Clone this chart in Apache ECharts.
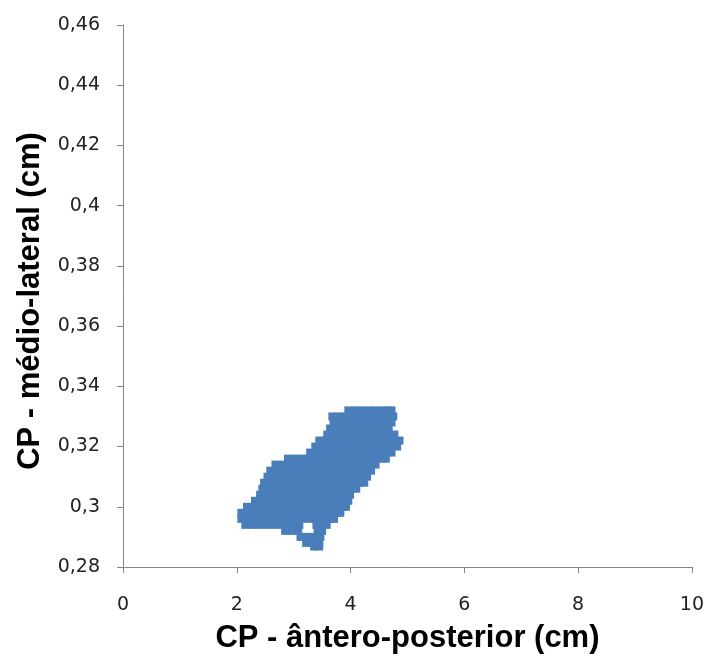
<!DOCTYPE html>
<html>
<head>
<meta charset="utf-8">
<script src="https://cdn.jsdelivr.net/npm/echarts@6/dist/echarts.min.js"></script>
<style>
  html, body { margin: 0; padding: 0; background: #ffffff; }
  #chart { width: 707px; height: 661px; }
</style>
</head>
<body>
<div id="chart"></div>
<script>
// Axis titles and tick labels
const xAxisTitle = 'CP - ântero-posterior (cm)';
const yAxisTitle = 'CP - médio-lateral (cm)';
const xTickLabels = ['0', '2', '4', '6', '8', '10'];
const yTickLabels = ['0,28', '0,3', '0,32', '0,34', '0,36', '0,38', '0,4', '0,42', '0,44', '0,46'];

// Centre-of-pressure trajectory samples: [antero-posterior (cm), medio-lateral (cm)]
const cpPoints = [
  [3.96,0.332],[4.08,0.332],[4.20,0.332],[4.32,0.332],[4.44,0.332],[4.56,0.332],[4.66,0.332],[4.72,0.332],
  [3.68,0.330],[3.80,0.330],[3.92,0.330],[4.04,0.330],[4.16,0.330],[4.28,0.330],[4.40,0.330],[4.52,0.330],[4.64,0.330],[4.75,0.330],
  [3.70,0.328],[3.82,0.328],[3.94,0.328],[4.06,0.328],[4.18,0.328],[4.30,0.328],[4.42,0.328],[4.54,0.328],[4.64,0.328],[4.72,0.328],
  [3.64,0.326],[3.76,0.326],[3.88,0.326],[4.00,0.326],[4.12,0.326],[4.24,0.326],[4.36,0.326],[4.48,0.326],[4.58,0.326],[4.67,0.326],
  [3.59,0.324],[3.71,0.324],[3.83,0.324],[3.95,0.324],[4.07,0.324],[4.19,0.324],[4.31,0.324],[4.43,0.324],[4.55,0.324],[4.67,0.324],[4.77,0.324],
  [3.45,0.322],[3.57,0.322],[3.69,0.322],[3.81,0.322],[3.93,0.322],[4.05,0.322],[4.17,0.322],[4.29,0.322],[4.41,0.322],[4.53,0.322],[4.65,0.322],[4.77,0.322],[4.86,0.322],
  [3.38,0.320],[3.50,0.320],[3.62,0.320],[3.74,0.320],[3.86,0.320],[3.98,0.320],[4.10,0.320],[4.22,0.320],[4.34,0.320],[4.46,0.320],[4.58,0.320],[4.70,0.320],[4.82,0.320],
  [3.29,0.318],[3.41,0.318],[3.53,0.318],[3.65,0.318],[3.77,0.318],[3.89,0.318],[4.01,0.318],[4.13,0.318],[4.25,0.318],[4.37,0.318],[4.49,0.318],[4.61,0.318],[4.72,0.318],
  [2.90,0.316],[3.02,0.316],[3.14,0.316],[3.26,0.316],[3.38,0.316],[3.50,0.316],[3.62,0.316],[3.74,0.316],[3.86,0.316],[3.98,0.316],[4.10,0.316],[4.22,0.316],[4.34,0.316],[4.46,0.316],[4.56,0.316],[4.62,0.316],
  [2.68,0.314],[2.80,0.314],[2.92,0.314],[3.04,0.314],[3.16,0.314],[3.28,0.314],[3.40,0.314],[3.52,0.314],[3.64,0.314],[3.76,0.314],[3.88,0.314],[4.00,0.314],[4.12,0.314],[4.24,0.314],[4.36,0.314],[4.44,0.314],
  [2.59,0.312],[2.71,0.312],[2.83,0.312],[2.95,0.312],[3.07,0.312],[3.19,0.312],[3.31,0.312],[3.43,0.312],[3.55,0.312],[3.67,0.312],[3.79,0.312],[3.91,0.312],[4.03,0.312],[4.15,0.312],[4.27,0.312],[4.36,0.312],
  [2.54,0.310],[2.66,0.310],[2.78,0.310],[2.90,0.310],[3.02,0.310],[3.14,0.310],[3.26,0.310],[3.38,0.310],[3.50,0.310],[3.62,0.310],[3.74,0.310],[3.86,0.310],[3.98,0.310],[4.10,0.310],[4.22,0.310],[4.29,0.310],
  [2.48,0.308],[2.60,0.308],[2.72,0.308],[2.84,0.308],[2.96,0.308],[3.08,0.308],[3.20,0.308],[3.32,0.308],[3.44,0.308],[3.56,0.308],[3.68,0.308],[3.80,0.308],[3.92,0.308],[4.04,0.308],[4.16,0.308],[4.24,0.308],
  [2.45,0.306],[2.57,0.306],[2.69,0.306],[2.81,0.306],[2.93,0.306],[3.05,0.306],[3.17,0.306],[3.29,0.306],[3.41,0.306],[3.53,0.306],[3.65,0.306],[3.77,0.306],[3.89,0.306],[4.01,0.306],[4.10,0.306],
  [2.41,0.304],[2.53,0.304],[2.65,0.304],[2.77,0.304],[2.89,0.304],[3.01,0.304],[3.13,0.304],[3.25,0.304],[3.37,0.304],[3.49,0.304],[3.61,0.304],[3.73,0.304],[3.85,0.304],[3.95,0.304],[3.99,0.304],
  [2.32,0.302],[2.44,0.302],[2.56,0.302],[2.68,0.302],[2.80,0.302],[2.92,0.302],[3.04,0.302],[3.16,0.302],[3.28,0.302],[3.40,0.302],[3.52,0.302],[3.64,0.302],[3.76,0.302],[3.88,0.302],[3.96,0.302],
  [2.18,0.300],[2.30,0.300],[2.42,0.300],[2.54,0.300],[2.66,0.300],[2.78,0.300],[2.90,0.300],[3.02,0.300],[3.14,0.300],[3.26,0.300],[3.38,0.300],[3.50,0.300],[3.62,0.300],[3.74,0.300],[3.86,0.300],[3.92,0.300],
  [2.08,0.298],[2.20,0.298],[2.32,0.298],[2.44,0.298],[2.56,0.298],[2.68,0.298],[2.80,0.298],[2.92,0.298],[3.04,0.298],[3.16,0.298],[3.28,0.298],[3.40,0.298],[3.52,0.298],[3.64,0.298],[3.76,0.298],[3.82,0.298],
  [2.08,0.296],[2.20,0.296],[2.32,0.296],[2.44,0.296],[2.56,0.296],[2.68,0.296],[2.80,0.296],[2.92,0.296],[3.04,0.296],[3.16,0.296],[3.28,0.296],[3.40,0.296],[3.52,0.296],[3.64,0.296],[3.71,0.296],
  [2.15,0.294],[2.27,0.294],[2.39,0.294],[2.51,0.294],[2.63,0.294],[2.75,0.294],[2.87,0.294],[2.99,0.294],[3.10,0.294],[3.40,0.294],[3.50,0.294],[3.58,0.294],
  [2.85,0.292],[2.97,0.292],[3.08,0.292],[3.42,0.292],[3.50,0.292],
  [3.12,0.290],[3.24,0.290],[3.36,0.290],[3.47,0.290],
  [3.22,0.288],[3.34,0.288],[3.45,0.288],
  [3.36,0.2868],[3.45,0.2868]
];

const chart = echarts.init(document.getElementById('chart'), null, { renderer: 'canvas' });

const axisGray = '#868686';
const labelColor = '#222222';
const titleFont = 'Liberation Sans, Arial, sans-serif';
const tickFont = 'DejaVu Sans, sans-serif';

chart.setOption({
  animation: false,
  backgroundColor: '#ffffff',
  grid: { left: 123, right: 15, top: 25, bottom: 94, containLabel: false },
  xAxis: {
    type: 'value',
    min: 0, max: 10, interval: 2,
    name: xAxisTitle,
    nameLocation: 'middle',
    nameGap: 56,
    nameTextStyle: { fontFamily: titleFont, fontWeight: 'bold', fontSize: 31, color: '#000' },
    axisLine: { show: true, lineStyle: { color: axisGray, width: 1 } },
    axisTick: { show: true, inside: false, length: 6, lineStyle: { color: axisGray } },
    axisLabel: {
      margin: 29,
      fontFamily: tickFont, fontSize: 19, color: labelColor,
      formatter: (v) => xTickLabels[Math.round(v / 2)]
    },
    splitLine: { show: false }
  },
  yAxis: {
    type: 'value',
    min: 0.28, max: 0.46, interval: 0.02,
    name: yAxisTitle,
    nameLocation: 'middle',
    nameGap: 77,
    nameTextStyle: { fontFamily: titleFont, fontWeight: 'bold', fontSize: 31, color: '#000', padding: [0, 10, 0, 0] },
    axisLine: { show: true, lineStyle: { color: axisGray, width: 1 } },
    axisTick: { show: true, inside: false, length: 6, lineStyle: { color: axisGray } },
    axisLabel: {
      margin: 23,
      fontFamily: tickFont, fontSize: 19, color: labelColor,
      formatter: (v) => yTickLabels[Math.round((v - 0.28) / 0.02)]
    },
    splitLine: { show: false }
  },
  series: [{
    type: 'scatter',
    data: cpPoints,
    symbol: 'rect',
    symbolSize: 8,
    itemStyle: { color: '#4a7ebb', opacity: 1 },
    silent: true
  }]
});
</script>
</body>
</html>
